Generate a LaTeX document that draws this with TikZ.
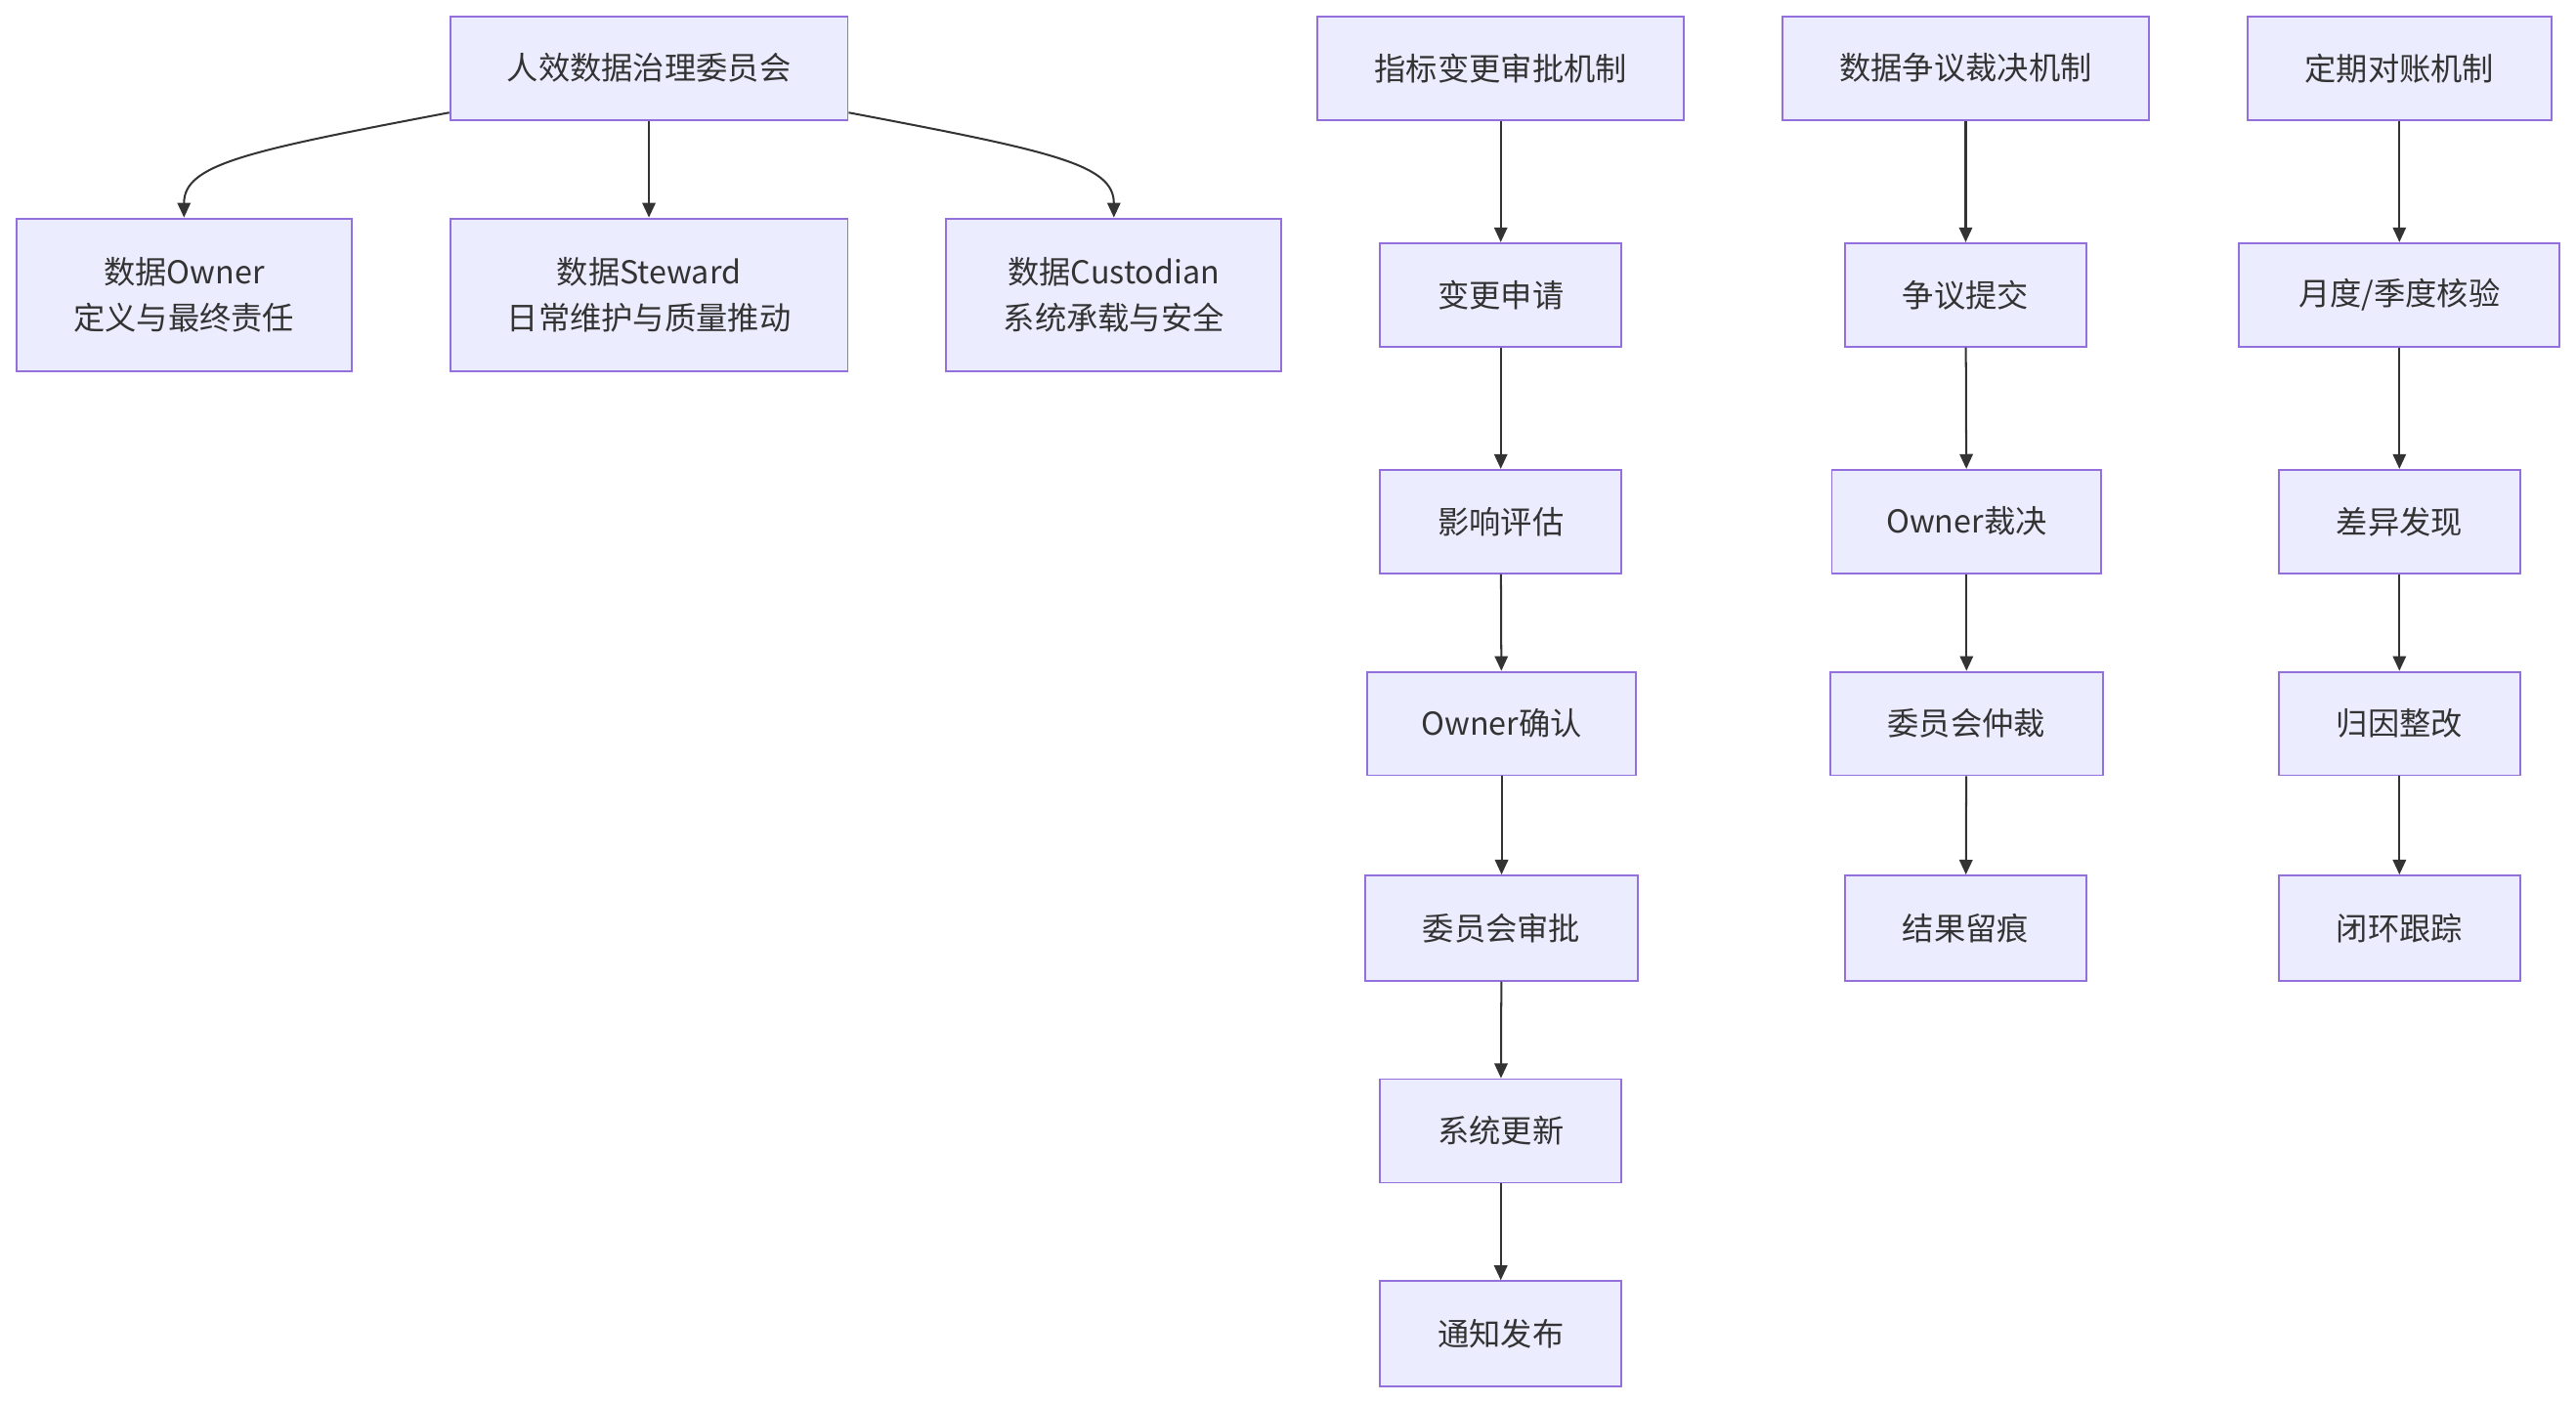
\documentclass[tikz,border=0pt]{standalone}
\usepackage{fontspec}
\setmainfont{Noto Sans CJK SC}
\usetikzlibrary{arrows.meta}
\definecolor{boxfill}{HTML}{ECECFF}
\definecolor{boxline}{HTML}{9370DB}
\definecolor{ink}{HTML}{333333}
\tikzset{
  box/.style={draw=boxline, fill=boxfill, line width=1.1pt, inner sep=0pt, text=ink,
    align=center, font=\fontsize{19.2}{28}\selectfont},
  conn/.style={draw=ink, line width=1.2pt, -{Triangle[length=9pt,width=8pt]}},
}
\newcommand{\bx}[7]{% name, x1, x2, y1, y2, text
  \node[box, minimum width={#3-#2}, minimum height={#5-#4}] (#1) at ({(#2+#3)/2},{(#4+#5)/2}) {#6};}
\begin{document}
\begin{tikzpicture}[x=1pt,y=-1pt]
\useasboundingbox (0,0) rectangle (1568,854);
% left group
\bx{comm}{274}{516}{10}{73}{人效数据治理委员会}{}
\bx{own}{10}{214}{133}{226}{数据Owner\\定义与最终责任}{}
\bx{stw}{274}{516}{133}{226}{数据Steward\\日常维护与质量推动}{}
\bx{cus}{576}{780}{133}{226}{数据Custodian\\系统承载与安全}{}
% column 1
\bx{a0}{802}{1025}{10}{73}{指标变更审批机制}{}
\bx{a1}{840}{987}{148}{211}{变更申请}{}
\bx{a2}{840}{987}{286}{349}{影响评估}{}
\bx{a3}{832}{996}{409}{472}{Owner确认}{}
\bx{a4}{831}{997}{533}{597}{委员会审批}{}
\bx{a5}{840}{987}{657}{720}{系统更新}{}
\bx{a6}{840}{987}{780}{844}{通知发布}{}
% column 2
\bx{b0}{1085}{1308}{10}{73}{数据争议裁决机制}{}
\bx{b1}{1123}{1270}{148}{211}{争议提交}{}
\bx{b2}{1115}{1279}{286}{349}{Owner裁决}{}
\bx{b3}{1114}{1280}{409}{472}{委员会仲裁}{}
\bx{b4}{1123}{1270}{533}{597}{结果留痕}{}
% column 3
\bx{c0}{1368}{1553}{10}{73}{定期对账机制}{}
\bx{c1}{1363}{1558}{148}{211}{月度/季度核验}{}
\bx{c2}{1387}{1534}{286}{349}{差异发现}{}
\bx{c3}{1387}{1534}{409}{472}{归因整改}{}
\bx{c4}{1387}{1534}{533}{597}{闭环跟踪}{}
% connectors
\draw[conn] ([yshift=5pt]comm.south west) .. controls (150,92) and (112,100) .. (own.north);
\draw[conn] (comm.south) -- (stw.north);
\draw[conn] ([yshift=5pt]comm.south east) .. controls (640,92) and (678,100) .. (cus.north);
\draw[conn] (a0) -- (a1);
\draw[conn] (a1) -- (a2);
\draw[conn] (a2) -- (a3);
\draw[conn] (a3) -- (a4);
\draw[conn] (a4) -- (a5);
\draw[conn] (a5) -- (a6);
\draw[conn] (b0) -- (b1);
\draw[conn] (b1) -- (b2);
\draw[conn] (b2) -- (b3);
\draw[conn] (b3) -- (b4);
\draw[conn] (c0) -- (c1);
\draw[conn] (c1) -- (c2);
\draw[conn] (c2) -- (c3);
\draw[conn] (c3) -- (c4);
\end{tikzpicture}
\end{document}
